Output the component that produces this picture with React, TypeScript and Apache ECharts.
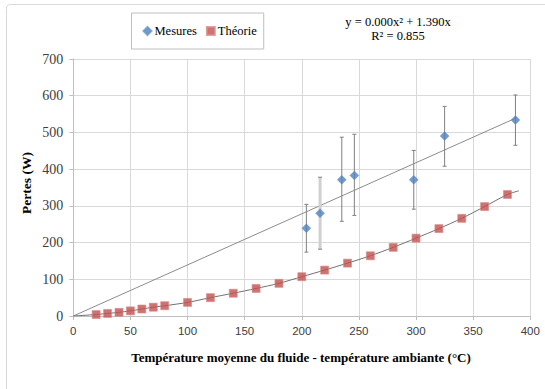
import React, { useEffect, useRef } from "react";
import * as echarts from "echarts";

const measX = [204, 216, 235, 246, 298, 325, 387];
const measY = [239, 280, 371, 383, 371, 490, 534];
const errLow = [174, 182, 258, 274, 291, 408, 465];
const errHigh = [304, 378, 487, 495, 451, 571, 602];
const errLight = [0, 1, 0, 0, 0, 0, 0];

const theoryX = [20, 30, 40, 50, 60, 70, 80, 100, 120, 140, 160, 180, 200, 220, 240, 260, 280, 300, 320, 340, 360, 380];
const theoryY = [4, 7, 10, 14, 19, 24, 28, 37, 50, 62, 75, 89, 107, 125, 144, 164, 187, 212, 238, 266, 298, 331];

const trendMeasX = [0, 388];
const trendMeasY = [0, 540];
const trendTheoX = [0, ...theoryX, 390];
const trendTheoY = [0, ...theoryY, 341];

const xTicks = [0, 50, 100, 150, 200, 250, 300, 350, 400];
const yTicks = [0, 100, 200, 300, 400, 500, 600, 700];

const equationLines = ["y = 0.000x² + 1.390x", "R² = 0.855"];
const xTitle = "Température moyenne du fluide - température ambiante (°C)";
const yTitle = "Pertes (W)";

const SERIF = "Liberation Serif";
const SANS = "Liberation Sans";

export default function App() {
  const ref = useRef<HTMLDivElement>(null);
  useEffect(() => {
    if (!ref.current) return;
    const chart = echarts.init(ref.current, null, { renderer: "svg" });
    const option: any = {
      animation: false,
      backgroundColor: "#ffffff",
      grid: { left: 73.3, right: 14.7, top: 59, bottom: 73 },
      legend: {
        left: 131.5,
        top: 13,
        orient: "horizontal",
        borderColor: "#bfbfbf",
        borderWidth: 1,
        padding: [11, 7, 11, 11],
        itemGap: 9,
        itemWidth: 8,
        itemHeight: 8,
        textStyle: { fontFamily: SERIF, fontSize: 12.5, color: "#000", lineHeight: 14, padding: [0, 0, 0, -2] },
        data: [
          { name: "Mesures", icon: "diamond" },
          { name: "Théorie", icon: "rect" },
        ],
      },
      xAxis: {
        type: "value",
        min: 0,
        max: 400,
        interval: 50,
        axisLine: { show: true, lineStyle: { color: "#bfbfbf" } },
        axisTick: { show: true, inside: false, length: 4, lineStyle: { color: "#bfbfbf" } },
        splitLine: { show: true, lineStyle: { color: "#d9d9d9" } },
        axisLabel: {
          margin: 9,
          fontFamily: SANS,
          fontSize: 11.5,
          color: "#404040",
          formatter: (v: number) => (xTicks.includes(v) ? String(v) : ""),
        },
      },
      yAxis: {
        type: "value",
        min: 0,
        max: 700,
        interval: 100,
        axisLine: { show: true, lineStyle: { color: "#bfbfbf" } },
        axisTick: { show: true, inside: false, length: 4, lineStyle: { color: "#bfbfbf" } },
        splitLine: { show: true, lineStyle: { color: "#d9d9d9" } },
        axisLabel: {
          margin: 10,
          fontFamily: SERIF,
          fontSize: 14,
          color: "#404040",
          formatter: (v: number) => (yTicks.includes(v) ? String(v) : ""),
        },
      },
      series: [
        {
          name: "trendMes",
          type: "line",
          data: trendMeasX.map((x, i) => [x, trendMeasY[i]]),
          symbol: "none",
          lineStyle: { color: "#8c8c8c", width: 1 },
          silent: true,
          z: 1,
        },
        {
          name: "trendTheo",
          type: "line",
          data: trendTheoX.map((x, i) => [x, trendTheoY[i]]),
          symbol: "none",
          smooth: 0.3,
          lineStyle: { color: "#707070", width: 1 },
          silent: true,
          z: 1,
        },
        {
          name: "errors",
          type: "custom",
          z: 2,
          data: measX.map((x, i) => [x, errLow[i], errHigh[i], errLight[i]]),
          renderItem: (params: any, api: any) => {
            const x = api.value(0);
            const lo = api.coord([x, api.value(1)]);
            const hi = api.coord([x, api.value(2)]);
            const light = api.value(3) === 1;
            const cap = 2;
            const dark = "#808080";
            return {
              type: "group",
              children: [
                {
                  type: "line",
                  shape: { x1: lo[0], y1: lo[1], x2: hi[0], y2: hi[1] },
                  style: { stroke: light ? "#d0d0d0" : dark, lineWidth: light ? 3 : 1 },
                },
                {
                  type: "line",
                  shape: { x1: lo[0] - cap, y1: lo[1], x2: lo[0] + cap, y2: lo[1] },
                  style: { stroke: dark, lineWidth: 1 },
                },
                {
                  type: "line",
                  shape: { x1: hi[0] - cap, y1: hi[1], x2: hi[0] + cap, y2: hi[1] },
                  style: { stroke: dark, lineWidth: 1 },
                },
              ],
            };
          },
        },
        {
          name: "Mesures",
          type: "scatter",
          z: 3,
          symbol: "diamond",
          symbolSize: 9,
          itemStyle: { color: "#4f81bd", borderColor: "#6a96cc", borderWidth: 0.5 },
          data: measX.map((x, i) => [x, measY[i]]),
        },
        {
          name: "Théorie",
          type: "scatter",
          z: 3,
          symbol: "rect",
          symbolSize: 8,
          itemStyle: { color: "#c0504d", borderColor: "#d98c8a", borderWidth: 0.8 },
          data: theoryX.map((x, i) => [x, theoryY[i]]),
        },
      ],
      graphic: [
        {
          type: "rect",
          shape: { x: 6.5, y: 4.5, width: 700, height: 600, r: 4 },
          style: { fill: "none", stroke: "#d9d9d9", lineWidth: 1 },
          silent: true,
        },
        {
          type: "text",
          x: 398,
          y: 21.5,
          style: {
            text: equationLines[0],
            fontFamily: SERIF,
            fontSize: 12.5,
            fill: "#000",
            textAlign: "center",
            textVerticalAlign: "middle",
          },
        },
        {
          type: "text",
          x: 398,
          y: 35.5,
          style: {
            text: equationLines[1],
            fontFamily: SERIF,
            fontSize: 12.5,
            fill: "#000",
            textAlign: "center",
            textVerticalAlign: "middle",
          },
        },
        {
          type: "text",
          x: 301,
          y: 357,
          style: {
            text: xTitle,
            fontFamily: SERIF,
            fontWeight: "bold",
            fontSize: 13,
            fill: "#000",
            textAlign: "center",
            textVerticalAlign: "middle",
          },
        },
        {
          type: "text",
          x: 26,
          y: 183,
          rotation: Math.PI / 2,
          style: {
            text: yTitle,
            fontFamily: SERIF,
            fontWeight: "bold",
            fontSize: 13.5,
            fill: "#000",
            textAlign: "center",
            textVerticalAlign: "middle",
          },
        },
      ],
    };
    chart.setOption(option);
    return () => chart.dispose();
  }, []);
  return <div ref={ref} style={{ width: 545, height: 389, position: "absolute", left: 0, top: 0 }} />;
}
